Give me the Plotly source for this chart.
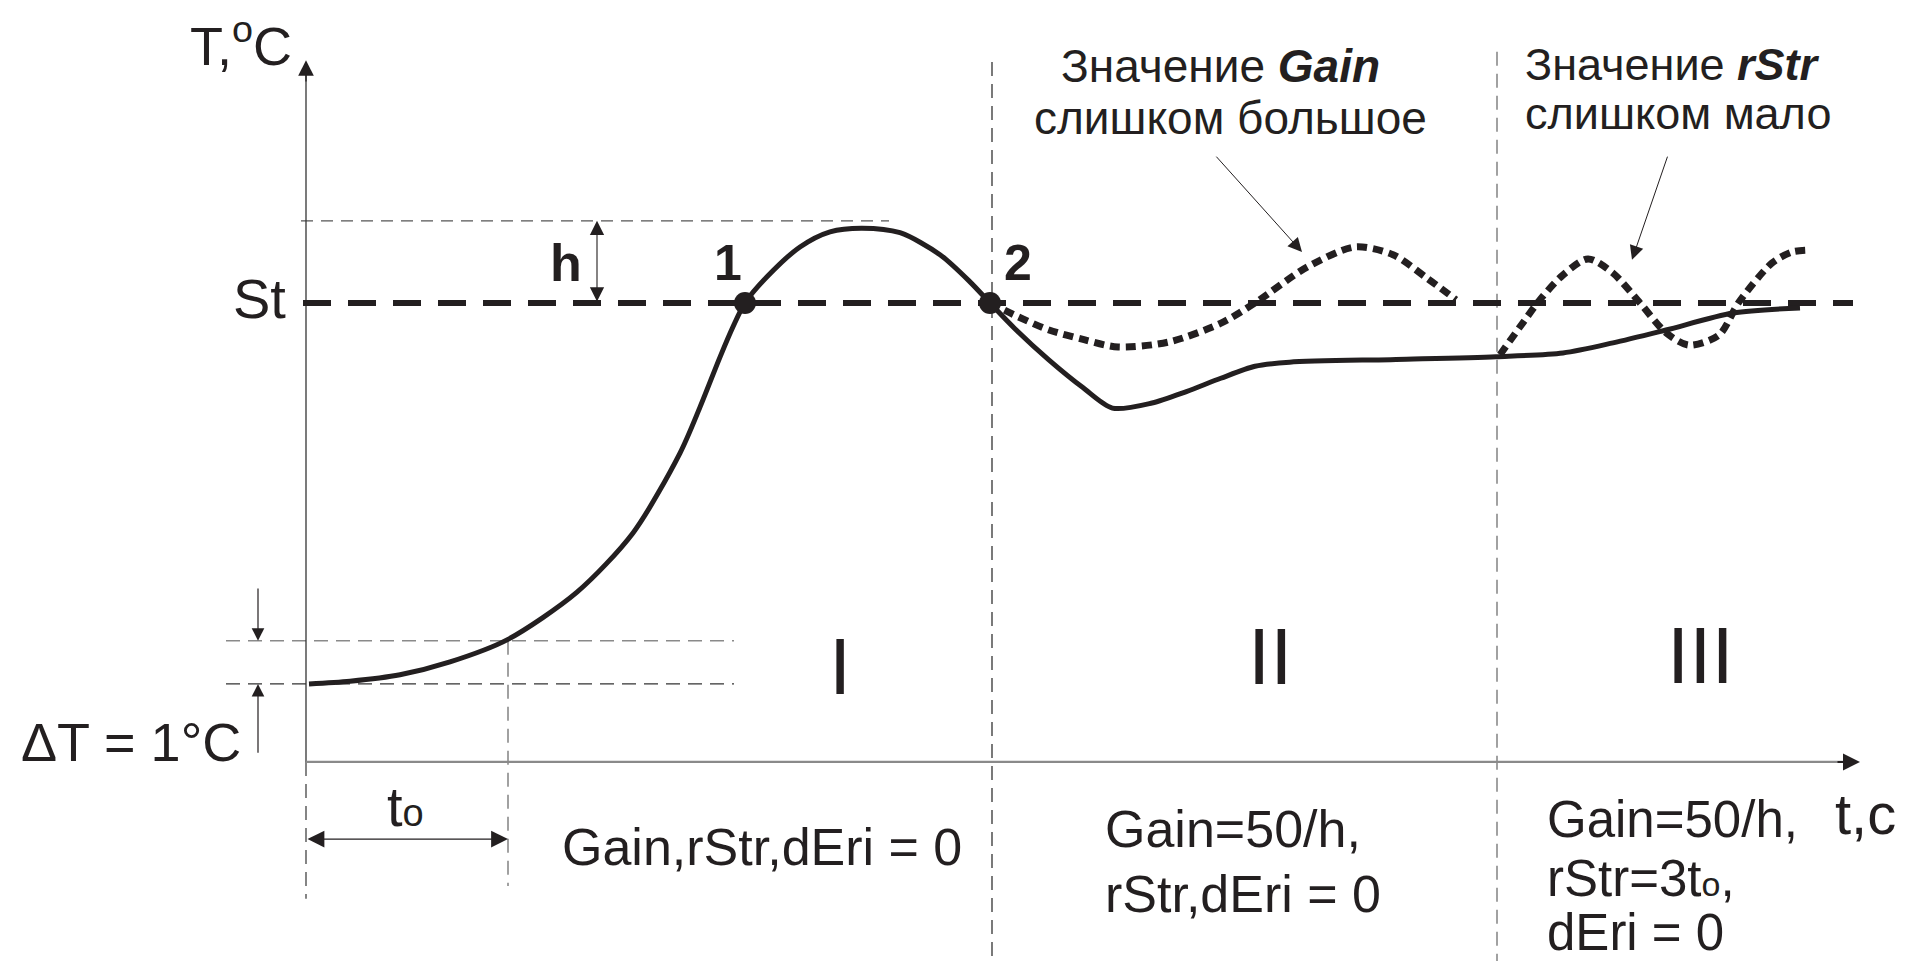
import plotly.graph_objects as go

# ---------------- data (schematic units: t = time, T = temperature, St = 100) ----------------
ST = 100.0
T_START = 17.0          # initial temperature
T_DT = 26.4             # initial temperature + dT (1 °C)
T_PEAK = 117.9          # overshoot level (h)
T0 = 10.1               # time t0
T_B1 = 34.3             # boundary I / II
T_B2 = 59.55            # boundary II / III
T_AXIS_END = 77.7
TEMP_AXIS_END = 152.9
ST_END = 77.35

main_t = [0.15, 2.2, 4.7, 7.2, 10.05, 13.55, 16.35, 18.7, 19.7, 20.7, 21.35, 21.95, 23.05, 24.7, 26.2,
          27.8, 29.7, 31.7, 33.2, 34.2, 35.42, 37.14, 38.86, 40.32, 42.3, 44.02, 45.74, 47.45, 49.18,
          54.5, 59.5, 62.85, 65.35, 68.0, 71.35, 74.7]
main_T = [17.0, 17.6, 19.0, 21.8, 26.6, 37.0, 49.9, 67.3, 77.3, 88.2, 94.8, 100, 105.7, 112.2, 115.5,
          116.3, 115.3, 110.5, 104.6, 100, 94.5, 87.6, 81.5, 77.1, 78.2, 80.7, 83.6, 86.2, 87.1,
          87.7, 88.3, 89.1, 91.3, 94.1, 97.8, 98.9]

gain_t = [34.2, 35.6, 37.15, 38.9, 40.6, 43.15, 45.75, 47.45, 50.05, 52.45, 54.35, 56.05, 57.5]
gain_T = [100, 97.0, 94.1, 92.0, 90.4, 91.5, 95.6, 100, 107.8, 112.2, 110.5, 105.4, 100.7]

rstr_t = [59.7, 60.7, 61.7, 62.85, 64.1, 65.35, 66.7, 68.0, 69.15, 70.65, 71.65, 73.3, 74.3, 75.1]
rstr_T = [88.7, 94.8, 100.7, 106.1, 109.6, 106.5, 100.0, 93.5, 90.8, 93.0, 100.2, 108.7, 111.1, 111.5]

points_t = [21.95, 34.2]
points_T = [100, 100]
point_labels = ["1", "2"]

region_labels = ["I", "II", "III"]
region_t = [26.7, 48.2, 69.7]
region_T = [20.7, 22.9, 23.1]

param_I = ["Gain,rStr,dEri = 0"]
param_II = ["Gain=50/h,", "rStr,dEri = 0"]
param_III = ["Gain=50/h,", "rStr=3t<span style='font-size:34px'>o</span>,", "dEri = 0"]

note_gain = ["Значение <b><i>Gain</i></b>", "слишком большое"]
note_rstr = ["Значение <b><i>rStr</i></b>", "слишком мало"]

# ---------------- figure ----------------
FONT = "Liberation Sans, Arial, sans-serif"
INK = "#231f20"

X_RANGE = [-15.3, 80.2]
Y_RANGE = [-43.36, 166.0]

fig = go.Figure()


def line(xs, ys, color, width, dash="solid", shape="linear", smoothing=1.0):
    fig.add_trace(go.Scatter(x=xs, y=ys, mode="lines", hoverinfo="skip",
                             line=dict(color=color, width=width, dash=dash, shape=shape,
                                       smoothing=smoothing)))


# thin helper lines
line([-0.25, 29.15], [T_PEAK, T_PEAK], "#555555", 1.2, "12px,8px")
line([-4.0, 21.4], [T_DT, T_DT], "#8a8a8a", 1.6, "14px,8px")
line([-4.0, 21.4], [T_START, T_START], "#333333", 1.3, "14px,8px")
line([T0, T0], [T_DT, -27.0], "#8a8a8a", 1.6, "14px,8px")
line([0, 0], [0, -29.8], "#444444", 1.3, "14px,8px")
line([T_B1, T_B1], [152.5, Y_RANGE[0]], "#333333", 1.3, "14px,8px")
line([T_B2, T_B2], [154.7, Y_RANGE[0]], "#8a8a8a", 1.6, "14px,8px")

# axes
line([0, 0], [0, TEMP_AXIS_END - 3], "#333333", 1.3)
line([0, T_AXIS_END - 0.8], [0, 0], "#8a8a8a", 2.2)

# set-point line
line([-0.15, ST_END], [ST, ST], INK, 6, "28px,17px")

# curves
line(main_t, main_T, INK, 5, "solid", "spline", 0.8)
line(gain_t, gain_T, INK, 7, "10px,6px", "spline", 0.8)
line(rstr_t, rstr_T, INK, 7, "10px,6px", "spline", 0.8)

fig.add_trace(go.Scatter(x=points_t, y=points_T, mode="markers", hoverinfo="skip",
                         marker=dict(size=22, color=INK)))

ann = []


def arrow(x, y, ax, ay, color=INK, width=1.2, size=2.5, both=False):
    d = dict(x=x, y=y, ax=ax, ay=ay, xref="x", yref="y", axref="x", ayref="y",
             text="", showarrow=True, arrowhead=2, arrowsize=size, arrowwidth=width,
             arrowcolor=color)
    if both:
        d.update(arrowside="end+start", startarrowhead=2, startarrowsize=size)
    ann.append(d)


def text(x, y, s, size, xanchor="center", bold=False):
    ann.append(dict(x=x, y=y, xref="x", yref="y", text=(f"<b>{s}</b>" if bold else s),
                    showarrow=False, xanchor=xanchor, yanchor="middle",
                    font=dict(family=FONT, size=size, color=INK)))


# axis arrow heads
arrow(0, TEMP_AXIS_END, 0, TEMP_AXIS_END - 5, INK, 1.3, 2.4)
arrow(T_AXIS_END, 0, T_AXIS_END - 1.2, 0, INK, 2, 1.7)
# h arrow
arrow(14.55, T_PEAK, 14.55, ST, INK, 1.1, 2.6, both=True)
# dT arrows
arrow(-2.4, T_DT, -2.4, 38.1, INK, 1.2, 2.1)
arrow(-2.4, T_START, -2.4, 1.7, INK, 1.2, 2.1)
# t0 arrow
arrow(T0, -16.8, 0, -16.8, INK, 1.3, 2.6, both=True)
# note arrows
arrow(49.8, 111.1, 45.45, 132.2, INK, 1.0, 2.8)
arrow(66.3, 109.4, 68.1, 132.2, INK, 1.0, 2.8)

# labels
text(-0.6, 156.9, "T,<sup>o</sup>C", 54, "right")
text(-0.9, 101.0, "St", 56, "right")
text(13.0, 108.8, "h", 52, bold=True)
for pt, pT, lab in zip(points_t, points_T, point_labels):
    dx = -0.85 if lab == "1" else 1.4
    text(pt + dx, pT + 8.7, lab, 50, bold=True)
text(-3.15, 4.36, "\u0394T = 1\u00b0C", 54, "right")
text(4.95, -9.6, "t<span style='font-size:38px'>o</span>", 56)
text(76.35, -11.3, "t,c", 58, "left")

for lab, rt, rT in zip(region_labels, region_t, region_T):
    text(rt, rT, lab, 80)

text(22.8, -18.5, param_I[0], 52)
for s, yy in zip(param_II, [-14.5, -28.8]):
    text(39.85, yy, s, 52, "left")
for s, yy in zip(param_III, [-12.6, -25.3, -37.2]):
    text(61.95, yy, s, 51, "left")

text(45.7, 151.7, note_gain[0], 46)
text(46.2, 140.4, note_gain[1], 46)
text(60.85, 151.9, note_rstr[0], 45, "left")
text(60.85, 141.2, note_rstr[1], 45, "left")

fig.update_layout(
    width=1910, height=961,
    margin=dict(l=0, r=0, t=0, b=0),
    paper_bgcolor="white", plot_bgcolor="white",
    showlegend=False,
    xaxis=dict(range=X_RANGE, visible=False, fixedrange=True),
    yaxis=dict(range=Y_RANGE, visible=False, fixedrange=True),
    annotations=ann,
)

fig.write_html("out.html", config={"displayModeBar": False},
               post_script="document.body.style.margin='0';document.body.style.overflow='hidden';")
